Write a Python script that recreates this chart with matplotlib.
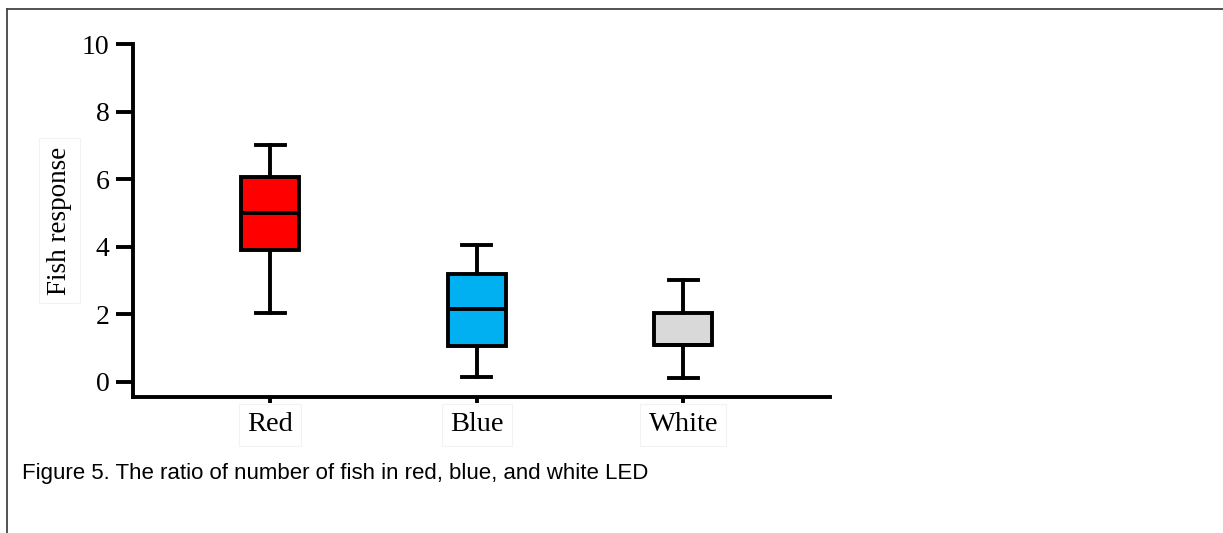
import matplotlib
matplotlib.use("Agg")
import matplotlib.pyplot as plt
from matplotlib.lines import Line2D

# Light colours and their box statistics
groups = ["Red", "Blue", "White"]
whisker_low = [2.05, 0.15, 0.1]
q1 = [3.9, 1.05, 1.1]
median = [5.0, 2.15, 1.1]
q3 = [6.05, 3.2, 2.05]
whisker_high = [7.0, 4.05, 3.0]
fill_colors = ["#FF0000", "#00B0F0", "#D9D9D9"]

y_ticks = [0, 2, 4, 6, 8, 10]

serif = "Liberation Serif"
lw = 2.8

fig = plt.figure(figsize=(12.23, 5.33), dpi=100, facecolor="white")
ax = fig.add_axes([0.1087, 0.2552, 0.570, 0.6622])

stats = []
for i, g in enumerate(groups):
    stats.append({"label": g, "whislo": whisker_low[i], "q1": q1[i], "med": median[i],
                  "q3": q3[i], "whishi": whisker_high[i], "fliers": []})

positions = [1, 2, 3]
bp = ax.bxp(stats, positions=positions, widths=0.28, patch_artist=True,
            showfliers=False, capwidths=0.14,
            boxprops=dict(linewidth=lw, edgecolor="black"),
            medianprops=dict(color="black", linewidth=lw),
            whiskerprops=dict(color="black", linewidth=lw),
            capprops=dict(color="black", linewidth=lw))
for patch, c in zip(bp["boxes"], fill_colors):
    patch.set_facecolor(c)

ax.set_xlim(0.335, 3.71)
ax.set_ylim(-0.45, 10)
ax.set_yticks(y_ticks)
ax.set_xticks(positions)
ax.set_xticklabels(groups)

for s in ["top", "right"]:
    ax.spines[s].set_visible(False)
for s in ["left", "bottom"]:
    ax.spines[s].set_linewidth(lw)

ax.tick_params(axis="y", length=12, width=lw, pad=5, labelsize=20)
ax.tick_params(axis="x", length=4, width=lw, pad=7, labelsize=20.5)
for lbl in ax.get_yticklabels() + ax.get_xticklabels():
    lbl.set_fontfamily(serif)
# faint frames left around the category labels
for lbl in ax.get_xticklabels():
    lbl.set_bbox(dict(facecolor="none", edgecolor="#f2f2f2", linewidth=0.8, pad=6))

ax.set_ylabel("Fish response", fontsize=19.5, fontfamily=serif, labelpad=7,
              bbox=dict(facecolor="none", edgecolor="#f2f2f2", linewidth=0.8, pad=6))

fig.text(0.018, 0.112, "Figure 5. The ratio of number of fish in red, blue, and white LED",
         fontsize=16, fontfamily="Liberation Sans", va="center", ha="left")

# page frame on top and left
fig.add_artist(Line2D([0.0057, 1.0], [0.983, 0.983], color="#444444", linewidth=1.3,
                      transform=fig.transFigure))
fig.add_artist(Line2D([0.0057, 0.0057], [0.0, 0.983], color="#444444", linewidth=1.3,
                      transform=fig.transFigure))

fig.savefig("out.png", dpi=100, facecolor="white")
